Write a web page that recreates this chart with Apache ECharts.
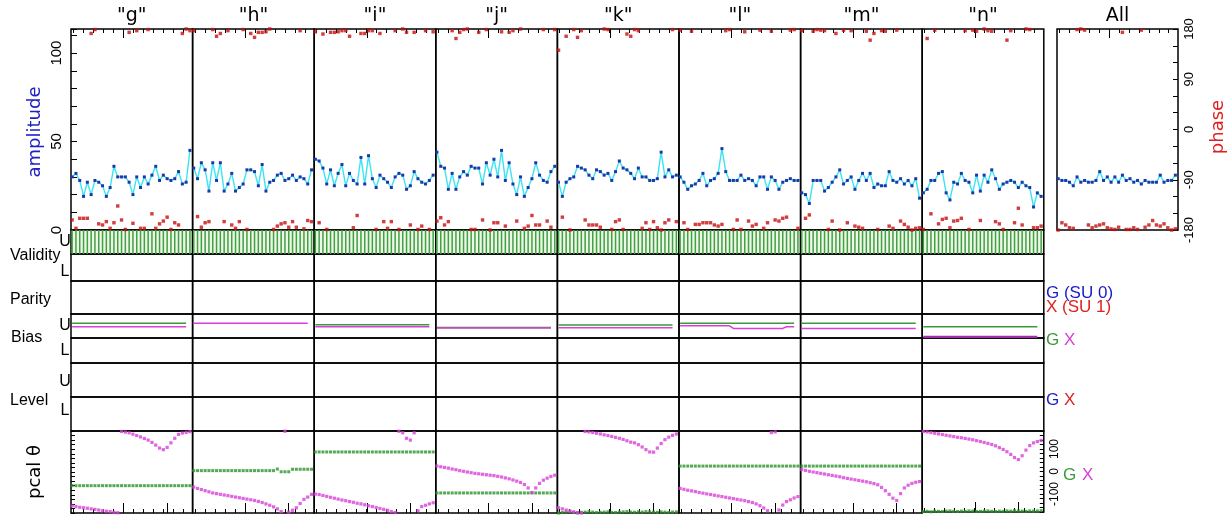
<!DOCTYPE html>
<html><head><meta charset="utf-8">
<script src="https://cdn.jsdelivr.net/npm/echarts@6/dist/echarts.min.js"></script>
<style>html,body{margin:0;padding:0;background:#fff}#c{width:1227px;height:515px}</style>
</head><body><div id="c"></div>
<script>
// ---------------- DATA ----------------
const panelNames = ['"g"', '"h"', '"i"', '"j"', '"k"', '"l"', '"m"', '"n"'];
const allName = 'All';
const ampTickLabels = [0, 50, 100];
const phaseTickLabels = [180, 90, 0, -90, -180];
const pcalTickLabels = [100, 0, -100];

// amplitude per sample (32 samples per panel)
const ampG = [30,32,28,19,27,20,28,27,25,19, 24,36,30,30,30,27,20,30,24,30, 26,31,36,28,31,29,28,29,33,26, 27,45];
const ampH = [35,29,38,34,22,38,28,38,22,26, 32,22,24,26,34,34,33,25,37,22, 27,28,31,32,28,29,31,28,30,29, 26,34];
const ampI = [40,39,35,26,34,25,32,37,25,32, 28,26,41,26,42,29,24,31,29,27, 24,30,32,31,23,25,33,29,27,26, 28,31];
const ampJ = [44,36,35,23,32,23,30,33,31,36, 35,35,26,38,31,40,30,45,28,38, 26,20,30,19,24,29,38,31,28,27, 33,36];
const ampK = [27,19,27,29,30,36,35,34,31,29, 34,33,31,32,28,33,39,35,34,32, 29,35,30,30,28,28,29,44,30,34, 30,31];
const ampL = [30,27,23,25,26,28,32,25,28,29, 32,46,33,28,28,28,31,28,29,28, 25,30,30,23,30,28,23,27,28,29, 28,28];
const ampM = [21,20,15,28,28,28,22,24,27,30, 34,26,28,30,23,28,32,28,32,24, 26,25,25,33,28,27,29,26,28,25, 29,18];
const ampN = [21,23,28,28,32,33,21,17,27,26, 32,28,27,21,31,22,31,27,34,29, 23,26,27,28,27,24,27,25,24,13, 21,19];
const ampAll = [29,28,28,27,25,30,27,28,27,27, 28,33,28,30,27,30,27,31,28,29, 27,28,26,28,27,27,27,31,27,28, 28,31];

// phase (deg)
const phaseG = [-162,-177,-159,-159,-159,172,179,-169,-171,-165, -177,-167,-137,-162,-179,174,-168,177,-177,-177, 179,-151,-177,-169,-164,-157,-179,-167,-171,172, 180,177];
const phaseH = [177,-156,-175,-167,-165,179,167,172,-165,177, -171,-177,-165,179,-179,172,165,174,174,175, 180,-179,-173,-169,-167,-175,-165,-175,177,-178, -163,-165];
const phaseI = [175,-167,171,-179,174,174,175,177,177,167, -176,-154,172,172,177,177,-179,172,-165,-177, -165,177,-179,180,174,-171,174,-179,-173,177, -179,175];
const phaseJ = [-164,-158,-171,-165,177,163,174,179,180,-179, -179,174,-162,179,-180,-167,-167,175,-173,174, 177,-164,180,-177,-173,-154,-171,-171,179,-164, -175,179];
const phaseK = [142,-157,167,-180,179,165,177,-162,-171,-171, -171,-175,180,179,-179,-165,-162,-179,171,167, 179,177,-177,-167,-179,-165,-176,-180,-167,-162, 179,-165];
const phaseL = [178,-167,-179,176,-170,-170,-167,-167,-167,-171, -173,-170,177,179,-179,-162,-179,175,-164,-173, -170,178,-177,-167,176,-162,-164,-159,-157,178, 179,-177];
const phaseM = [177,-159,-153,176,179,178,177,-179,-164,172, -180,178,-167,177,-173,-175,-177,176,160,172, -179,177,176,-173,-177,178,-164,-170,-175,-180, -177,-176];
const phaseN = [-179,163,-151,178,-169,-161,-159,-176,-164,-163, -159,177,-179,178,176,-163,180,177,176,-165, -169,-179,160,177,-167,-141,-171,180,179,-176, -176,-173];
const phaseAll = [-180,-167,-171,-176,-177,179,180,178,-171,-176, -173,-171,-169,-176,-178,-179,-175,174,-179,-179, -176,-179,178,-175,-171,-163,-171,-173,-169,-176, -180,-178];

// validity flags (1 = valid)
const validG = [1,1,1,1,1,1,1,1,1,1,1,1,1,1,1,1,1,1,1,1,1,1,1,1,1,1,1,1,1,1,1,1];
const validH = [1,1,1,1,1,1,1,1,1,1,1,1,1,1,1,1,1,1,1,1,1,1,1,1,1,1,1,1,1,1,1,1];
const validI = [1,1,1,1,1,1,1,1,1,1,1,1,1,1,1,1,1,1,1,1,1,1,1,1,1,1,1,1,1,1,1,1];
const validJ = [1,1,1,1,1,1,1,1,1,1,1,1,1,1,1,1,1,1,1,1,1,1,1,1,1,1,1,1,1,1,1,1];
const validK = [1,1,1,1,1,1,1,1,1,1,1,1,1,1,1,1,1,1,1,1,1,1,1,1,1,1,1,1,1,1,1,1];
const validL = [1,1,1,1,1,1,1,1,1,1,1,1,1,1,1,1,1,1,1,1,1,1,1,1,1,1,1,1,1,1,1,1];
const validM = [1,1,1,1,1,1,1,1,1,1,1,1,1,1,1,1,1,1,1,1,1,1,1,1,1,1,1,1,1,1,1,1];
const validN = [1,1,1,1,1,1,1,1,1,1,1,1,1,1,1,1,1,1,1,1,1,1,1,1,1,1,1,1,1,1,1,1];

// bias level (fraction of U half), G and X, 31 samples
const biasG_g = [0.61,0.61,0.61,0.61,0.61,0.61,0.61,0.61,0.61,0.61,0.61,0.61,0.61,0.61,0.61,0.61,0.61,0.61,0.61,0.61,0.61,0.61,0.61,0.61,0.61,0.61,0.61,0.61,0.61,0.61,0.61];
const biasX_g = [0.47,0.47,0.47,0.47,0.47,0.47,0.47,0.47,0.47,0.47,0.47,0.47,0.47,0.47,0.47,0.47,0.47,0.47,0.47,0.47,0.47,0.47,0.47,0.47,0.47,0.47,0.47,0.47,0.47,0.47,0.47];
const biasG_h = null;
const biasX_h = [0.61,0.61,0.61,0.61,0.61,0.61,0.61,0.61,0.61,0.61,0.61,0.61,0.61,0.61,0.61,0.61,0.61,0.61,0.61,0.61,0.61,0.61,0.61,0.61,0.61,0.61,0.61,0.61,0.61,0.61,0.61];
const biasG_i = [0.55,0.55,0.55,0.55,0.55,0.55,0.55,0.55,0.55,0.55,0.55,0.55,0.55,0.55,0.55,0.55,0.55,0.55,0.55,0.55,0.55,0.55,0.55,0.55,0.55,0.55,0.55,0.55,0.55,0.55,0.55];
const biasX_i = [0.47,0.47,0.47,0.47,0.47,0.47,0.47,0.47,0.47,0.47,0.47,0.47,0.47,0.47,0.47,0.47,0.47,0.47,0.47,0.47,0.47,0.47,0.47,0.47,0.47,0.47,0.47,0.47,0.47,0.47,0.47];
const biasG_j = [0.44,0.44,0.44,0.44,0.44,0.44,0.44,0.44,0.44,0.44,0.44,0.44,0.44,0.44,0.44,0.44,0.44,0.44,0.44,0.44,0.44,0.44,0.44,0.44,0.44,0.44,0.44,0.44,0.44,0.44,0.44];
const biasX_j = [0.42,0.42,0.42,0.42,0.42,0.42,0.42,0.42,0.42,0.42,0.42,0.42,0.42,0.42,0.42,0.42,0.42,0.42,0.42,0.42,0.42,0.42,0.42,0.42,0.42,0.42,0.42,0.42,0.42,0.42,0.42];
const biasG_k = [0.54,0.54,0.54,0.54,0.54,0.54,0.54,0.54,0.54,0.54,0.54,0.54,0.54,0.54,0.54,0.54,0.54,0.54,0.54,0.54,0.54,0.54,0.54,0.54,0.54,0.54,0.54,0.54,0.54,0.54,0.54];
const biasX_k = [0.43,0.43,0.43,0.43,0.43,0.43,0.43,0.43,0.43,0.43,0.43,0.43,0.43,0.43,0.43,0.43,0.43,0.43,0.43,0.43,0.43,0.43,0.43,0.43,0.43,0.43,0.43,0.43,0.43,0.43,0.43];
const biasG_l = [0.61,0.61,0.61,0.61,0.61,0.61,0.61,0.61,0.61,0.61,0.61,0.61,0.61,0.61,0.61,0.61,0.61,0.61,0.61,0.61,0.61,0.61,0.61,0.61,0.61,0.61,0.61,0.61,0.61,0.61,0.61];
const biasX_l = [0.51,0.51,0.51,0.51,0.51,0.51,0.51,0.51,0.51,0.51,0.51,0.51,0.51,0.51,0.40,0.40,0.40,0.40,0.40,0.40,0.40,0.40,0.40,0.40,0.40,0.40,0.40,0.40,0.47,0.47,0.47];
const biasG_m = [0.61,0.61,0.61,0.61,0.61,0.61,0.61,0.61,0.61,0.61,0.61,0.61,0.61,0.61,0.61,0.61,0.61,0.61,0.61,0.61,0.61,0.61,0.61,0.61,0.61,0.61,0.61,0.61,0.61,0.61,0.61];
const biasX_m = [0.40,0.40,0.40,0.40,0.40,0.40,0.40,0.40,0.40,0.40,0.40,0.40,0.40,0.40,0.40,0.40,0.40,0.40,0.40,0.40,0.40,0.40,0.40,0.40,0.40,0.40,0.40,0.40,0.40,0.40,0.40];
const biasG_n = [0.47,0.47,0.47,0.47,0.47,0.47,0.47,0.47,0.47,0.47,0.47,0.47,0.47,0.47,0.47,0.47,0.47,0.47,0.47,0.47,0.47,0.47,0.47,0.47,0.47,0.47,0.47,0.47,0.47,0.47,0.47];
const biasX_n = [0.05,0.05,0.05,0.05,0.05,0.05,0.05,0.05,0.05,0.05,0.05,0.05,0.05,0.05,0.05,0.05,0.05,0.05,0.05,0.05,0.05,0.05,0.05,0.05,0.05,0.05,0.05,0.05,0.05,0.05,0.05];

// pcal phase (deg): G (green) and X (magenta)
const pcalG_g = [-60,-60,-60,-60,-60,-60,-60,-60, -60,-60,-60,-60,-60,-60,-60,-60, -60,-60,-60,-60,-60,-60,-60,-60, -60,-60,-60,-60,-60,-60,-60,-60];
const pcalG_h = [6,6,6,6,6,6,6,6, 6,6,6,6,6,6,6,6, 6,6,6,6,6,6,13,1, 1,1,12,12,12,12,12,12];
const pcalG_i = [88,88,88,88,88,88,88,88, 88,88,88,88,88,88,88,88, 88,88,88,88,88,88,88,88, 88,88,88,88,88,88,88,88];
const pcalG_j = [-92,-92,-92,-92,-92,-92,-92,-92, -92,-92,-92,-92,-92,-92,-92,-92, -92,-92,-92,-92,-92,-92,-92,-92, -92,-92,-92,-92,-92,-92,-92,-92];
const pcalG_k = [-180,-178,-176,-175,-178,-180,-177,-176, -175,-176,-178,-177,-176,-175,-177,-178, -176,-175,-174,-176,-177,-175,-176,-174, -175,-176,-177,-175,-176,-178,-176,-175];
const pcalG_l = [26,26,26,26,26,26,26,26, 26,26,26,26,26,26,26,26, 26,26,26,26,26,26,26,26, 26,26,26,26,26,26,26,26];
const pcalG_m = [26,26,26,26,26,26,26,26, 26,26,26,26,26,26,26,26, 26,26,26,26,26,26,26,26, 26,26,26,26,26,26,26,26];
const pcalG_n = [-178,-177,-179,-176,-177,-178,-176,-175, -177,-178,-176,-177,-175,-176,-178,-177, -176,-175,-177,-178,-176,-177,-175,-176, -174,-175,-176,-177,-175,-176,-175,-174];
const pcalX_g = [-149,-152,-155,-157,-159,-162,-164,-167, -170,-172,-174,-177,-179,178,175,172, 166,160,154,147,140,130,118,105, 98,108,128,148,165,171,174,177];
const pcalX_h = [-66,-72,-77,-82,-87,-92,-95,-98, -101,-104,-107,-110,-113,-116,-119,-122, -125,-129,-134,-140,-146,-153,-162,-174, 179,-176,-168,-157,-138,-120,-110,-98];
const pcalX_i = [-97,-99,-103,-107,-111,-115,-119,-123, -126,-130,-133,-137,-140,-144,-148,-152, -156,-160,-164,-168,-174,-178,179,172, 148,140,172,-170,-152,-146,-140,-135];
const pcalX_j = [26,23,20,17,13,10,6,3, 0,-3,-6,-8,-10,-12,-14,-16, -19,-22,-26,-30,-35,-40,-46,-55, -70,-90,-70,-50,-36,-27,-20,-14];
const pcalX_k = [-157,-162,-167,-171,-175,-178,-180,178, 176,173,170,167,163,160,156,152, 148,143,137,131,128,120,110,98, 88,87,105,125,142,153,161,167];
const pcalX_l = [-72,-76,-80,-83,-86,-90,-93,-96, -99,-102,-105,-108,-111,-114,-117,-120, -123,-126,-130,-134,-140,-148,-158,-170, 173,176,-167,-145,-130,-122,-114,-108];
const pcalX_m = [11,7,3,0,-3,-6,-9,-12, -15,-18,-21,-25,-28,-31,-34,-37, -40,-43,-47,-51,-56,-68,-82,-98, -115,-125,-95,-70,-58,-50,-45,-42];
const pcalX_n = [178,176,173,170,167,164,161,158, 155,152,150,147,144,141,137,133, 129,125,120,114,106,98,88,76, 62,53,70,95,115,127,133,138];

const amplitude = [ampG, ampH, ampI, ampJ, ampK, ampL, ampM, ampN];
const phase = [phaseG, phaseH, phaseI, phaseJ, phaseK, phaseL, phaseM, phaseN];
const validity = [validG, validH, validI, validJ, validK, validL, validM, validN];
const biasG = [biasG_g, biasG_h, biasG_i, biasG_j, biasG_k, biasG_l, biasG_m, biasG_n];
const biasX = [biasX_g, biasX_h, biasX_i, biasX_j, biasX_k, biasX_l, biasX_m, biasX_n];
const pcalG = [pcalG_g, pcalG_h, pcalG_i, pcalG_j, pcalG_k, pcalG_l, pcalG_m, pcalG_n];
const pcalX = [pcalX_g, pcalX_h, pcalX_i, pcalX_j, pcalX_k, pcalX_l, pcalX_m, pcalX_n];

// ---------------- LAYOUT ----------------
const X0 = 71, PW = 121.6, ALLX = 1057, ALLW = 121;
const XMIN = -0.3, XMAX = 31.7, PXU = PW / (XMAX - XMIN);
const toU = p => XMIN + p / PXU;
const AMP_MAX = 113.6;
const topMinor = [], botMinor = [];
for (let k = 0; k < 12; k++) { topMinor.push(toU(2.3 + 10 * k)); botMinor.push(toU(2.3 + 10 * k)); }
const topMajor = [toU(52.6)], botMajor = [toU(52.7), toU(96)];

const C = { cyan: '#3ae4f2', blue: '#1a38a8', red: '#c40e0e', green: '#3a9a3a', mag: '#d83ed8', border: '#000' };
const FS = "'Liberation Sans', Arial, sans-serif";
const FD = "'DejaVu Sans', sans-serif";

const grids = [], xAxes = [], yAxes = [], series = [], texts = [];
function addGrid(left, top, width, height, bg) {
  grids.push({ left, top, width, height, show: true, borderColor: C.border, borderWidth: 1.5, backgroundColor: bg || 'transparent' });
  return grids.length - 1;
}
function tick(vals, len) { return { show: true, inside: true, length: len, customValues: vals, lineStyle: { color: '#000', width: 1 } }; }
function addX(gi, extra) {
  xAxes.push(Object.assign({ type: 'value', gridIndex: gi, min: XMIN, max: XMAX, axisLine: { show: false, onZero: false },
    axisLabel: { show: false }, axisTick: { show: false }, splitLine: { show: false } }, extra || {}));
  return xAxes.length - 1;
}
function addY(gi, min, max, extra) {
  yAxes.push(Object.assign({ type: 'value', gridIndex: gi, min, max, axisLine: { show: false, onZero: false },
    axisLabel: { show: false }, axisTick: { show: false }, splitLine: { show: false } }, extra || {}));
  return yAxes.length - 1;
}
const pts = arr => arr.map((v, i) => [i, v]);

function ampPanel(left, width, amp, ph, c, isAll) {
  const g = addGrid(left, 29, width, 201);
  const xa = addX(g, { position: 'top', axisTick: tick(topMinor, 4) });
  addX(g, { position: 'top', axisTick: tick(topMajor, 9) });
  let yExtra = {};
  if (c === 0) yExtra = { position: 'left', interval: 10,
    axisTick: { show: true, inside: true, length: 6, lineStyle: { color: '#000' } },
    axisLabel: { show: true, rotate: 90, margin: 7, fontSize: 15, fontFamily: FS, color: '#000',
      formatter: v => ampTickLabels.includes(v) ? String(v) : '' } };
  const ya = addY(g, 0, AMP_MAX, yExtra);
  let pExtra = {};
  if (isAll) pExtra = { position: 'right', interval: 30,
    axisTick: { show: true, inside: true, length: 5, lineStyle: { color: '#000' } },
    axisLabel: { show: true, rotate: 90, margin: 5, fontSize: 13, fontFamily: FS, color: '#000',
      formatter: v => phaseTickLabels.includes(v) ? String(v) : '' } };
  const yp = addY(g, -180, 180, pExtra);
  series.push({ type: 'scatter', xAxisIndex: xa, yAxisIndex: yp, data: pts(ph), symbol: 'rect', symbolSize: 3.4,
    itemStyle: { color: C.red }, z: 2 });
  series.push({ type: 'line', xAxisIndex: xa, yAxisIndex: ya, data: pts(amp), symbol: 'rect', symbolSize: 3,
    showSymbol: true, lineStyle: { color: C.cyan, width: 1.4 }, itemStyle: { color: C.blue }, z: 3 });
}

panelNames.forEach((name, c) => {
  const left = X0 + c * PW;
  ampPanel(left, PW, amplitude[c], phase[c], c, false);
  // validity U
  let g = addGrid(left, 230, PW, 24, '#eef6ea');
  let xa = addX(g); let ya = addY(g, 0, 1);
  series.push({ type: 'bar', xAxisIndex: xa, yAxisIndex: ya, data: pts(validity[c]), barWidth: 1.5,
    itemStyle: { color: '#3fa23f' }, z: 2 });
  // validity L, parity
  g = addGrid(left, 254, PW, 27); addX(g); addY(g, 0, 1);
  g = addGrid(left, 281, PW, 33); addX(g); addY(g, 0, 1);
  // bias U
  g = addGrid(left, 314, PW, 24); xa = addX(g); ya = addY(g, 0, 1);
  if (biasG[c]) series.push({ type: 'line', xAxisIndex: xa, yAxisIndex: ya, data: pts(biasG[c]), showSymbol: false,
    symbol: 'none', lineStyle: { color: C.green, width: 1.5 }, z: 3 });
  if (biasX[c]) series.push({ type: 'line', xAxisIndex: xa, yAxisIndex: ya, data: pts(biasX[c]), showSymbol: false,
    symbol: 'none', lineStyle: { color: c === 7 ? '#a030a8' : C.mag, width: c === 7 ? 2.2 : 1.5 }, z: 3 });
  // bias L, level U, level L
  g = addGrid(left, 338, PW, 25); addX(g); addY(g, 0, 1);
  g = addGrid(left, 363, PW, 34); addX(g); addY(g, 0, 1);
  g = addGrid(left, 397, PW, 34); addX(g); addY(g, 0, 1);
  // pcal
  g = addGrid(left, 431, PW, 82);
  xa = addX(g, { position: 'bottom', axisTick: tick(botMinor, 4) });
  addX(g, { position: 'bottom', axisTick: tick(botMajor, 10) });
  let pe = {};
  if (c === 0) pe = { position: 'left', interval: 20, axisTick: { show: true, inside: true, length: 4, lineStyle: { color: '#000' } } };
  if (c === 7) pe = { position: 'right', interval: 20, axisTick: { show: true, inside: true, length: 4, lineStyle: { color: '#000' } },
    axisLabel: { show: true, rotate: 90, margin: 5, fontSize: 12, fontFamily: FS, color: '#000',
      formatter: v => pcalTickLabels.includes(v) ? String(v) : '' } };
  ya = addY(g, -180, 180, pe);
  series.push({ type: 'scatter', xAxisIndex: xa, yAxisIndex: ya, data: pts(pcalG[c]), symbol: 'rect', symbolSize: 3,
    itemStyle: { color: '#2a922a' }, z: 2 });
  series.push({ type: 'scatter', xAxisIndex: xa, yAxisIndex: ya, data: pts(pcalX[c]), symbol: 'rect', symbolSize: 3.2,
    itemStyle: { color: C.mag }, z: 3 });
  texts.push({ type: 'text', x: left + PW / 2, y: 16, style: { text: name, font: '19px ' + FD, fill: '#000', align: 'center', verticalAlign: 'middle' } });
});
ampPanel(ALLX, ALLW, ampAll, phaseAll, -1, true);
texts.push({ type: 'text', x: ALLX + ALLW / 2, y: 16, style: { text: allName, font: '19px ' + FD, fill: '#000', align: 'center', verticalAlign: 'middle' } });

function txt(s, x, y, font, fill, align, rot) {
  texts.push({ type: 'text', x, y, rotation: rot || 0, style: { text: s, font, fill, align: align || 'left', verticalAlign: 'middle' } });
}
const lab = '16px ' + FS;
txt('U', 65, 242, lab, '#000', 'center');
txt('Validity', 10, 256, lab, '#000');
txt('L', 65, 272, lab, '#000', 'center');
txt('Parity', 10, 300, lab, '#000');
txt('U', 65, 326, lab, '#000', 'center');
txt('Bias', 11, 338, lab, '#000');
txt('L', 65, 351, lab, '#000', 'center');
txt('U', 65, 382, lab, '#000', 'center');
txt('Level', 10, 401, lab, '#000');
txt('L', 65, 411, lab, '#000', 'center');
txt('amplitude', 35, 132, '18px ' + FD, '#2020c8', 'center', Math.PI / 2);
txt('phase', 1218, 127, '18px ' + FD, '#e02020', 'center', Math.PI / 2);
txt('pcal θ', 35, 472, '18px ' + FD, '#000', 'center', Math.PI / 2);
const leg = '17px ' + FS;
txt('G (SU 0)', 1046, 293, leg, '#1a1ac8');
txt('X (SU 1)', 1046, 307, leg, '#e02020');
txt('G', 1046, 340, leg, C.green);
txt('X', 1064, 340, leg, C.mag);
txt('G', 1046, 400, leg, '#1a1ac8');
txt('X', 1064, 400, leg, '#e02020');
txt('G', 1063, 475, leg, C.green);
txt('X', 1082, 475, leg, C.mag);

const chart = echarts.init(document.getElementById('c'), null, { renderer: 'canvas' });
chart.setOption({ animation: false, backgroundColor: '#fff', grid: grids, xAxis: xAxes, yAxis: yAxes, series,
  graphic: { elements: texts } });
</script></body></html>
